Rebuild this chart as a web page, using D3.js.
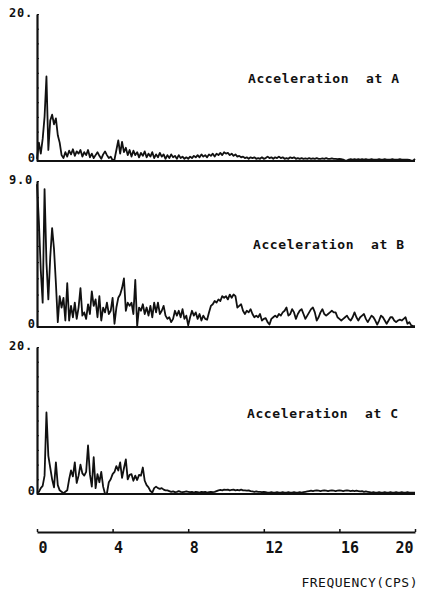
<!DOCTYPE html>
<html>
<head>
<meta charset="utf-8">
<script src="https://cdn.jsdelivr.net/npm/d3@7"></script>
<style>
    body { margin: 0; background: #fff; }
    text { font-family: "DejaVu Sans Mono", monospace; font-weight: bold; fill: #111; }
</style>
</head>
<body>
<svg id="chart" width="429" height="595"></svg>
<script>
// spectra sampled every 0.1 cps, 0 .. 20 cps
const freqStep = 0.1;

const accelA = [
    0.3, 2.5, 1.0, 3.0, 6.0, 11.5, 1.5, 5.5, 6.3, 5.0,
    5.8, 3.5, 2.5, 0.8, 0.4, 1.2, 0.6, 1.4, 0.9, 1.6,
    0.7, 1.3, 1.0, 1.5, 0.6, 1.2, 0.8, 1.5, 0.5, 1.0,
    0.4, 0.8, 1.2, 0.7, 0.3, 0.9, 1.3, 0.8, 0.4, 0.6,
    0.1, 0.2, 1.5, 2.8, 1.0, 2.6, 1.2, 1.8, 0.8, 1.5,
    0.6, 1.4, 0.8, 1.2, 0.5, 1.1, 0.7, 1.3, 0.5, 1.0,
    0.6, 1.2, 0.4, 0.9, 0.5, 1.1, 0.6, 0.9, 0.3, 0.8,
    0.4, 0.9, 0.5, 0.7, 0.3, 0.8, 0.4, 0.6, 0.3, 0.5,
    0.3, 0.6, 0.4, 0.7, 0.5, 0.8, 0.5, 0.9, 0.6, 0.8,
    0.5, 0.9, 0.7, 1.0, 0.6, 1.0, 0.8, 1.1, 0.8, 1.2,
    1.0, 1.1, 0.8, 1.0, 0.7, 0.9, 0.6, 0.7, 0.5, 0.6,
    0.4, 0.5, 0.3, 0.5, 0.4, 0.5, 0.3, 0.4, 0.3, 0.5,
    0.3, 0.4, 0.6, 0.4, 0.5, 0.3, 0.5, 0.4, 0.6, 0.4,
    0.5, 0.3, 0.4, 0.3, 0.5, 0.4, 0.5, 0.3, 0.4, 0.3,
    0.4, 0.3, 0.35, 0.3, 0.4, 0.3, 0.35, 0.3, 0.4, 0.3,
    0.3, 0.35, 0.3, 0.4, 0.3, 0.3, 0.35, 0.3, 0.3, 0.25,
    0.3, 0.25, 0.2, 0.05, 0.05, 0.2, 0.25, 0.2, 0.25, 0.2,
    0.25, 0.2, 0.25, 0.2, 0.25, 0.2, 0.2, 0.25, 0.2, 0.2,
    0.2, 0.25, 0.2, 0.2, 0.25, 0.2, 0.2, 0.2, 0.25, 0.2,
    0.2, 0.2, 0.25, 0.2, 0.2, 0.2, 0.2, 0.15, 0.05, 0.05,
    0.3
];

const accelB = [
    8.8, 6.5, 3.5, 1.5, 8.5, 4.0, 1.7, 4.3, 6.1, 4.8,
    2.7, 0.3, 1.9, 1.2, 1.8, 0.4, 2.7, 0.4, 1.3, 0.6,
    1.5, 0.5, 1.2, 2.4, 0.7, 0.9, 0.5, 1.4, 0.8, 2.2,
    1.3, 1.7, 0.6, 1.9, 0.4, 1.2, 0.9, 1.5, 0.8, 1.0,
    1.8, 0.2, 1.2, 1.8, 2.0, 2.4, 3.0, 1.0, 1.5, 1.3,
    1.5, 0.8, 2.9, 0.05, 1.2, 1.0, 1.4, 0.8, 1.2, 0.7,
    1.3, 0.6, 1.5, 0.9, 1.5, 0.8, 1.0, 1.3, 0.7, 0.5,
    0.6, 0.3, 0.5, 1.0, 0.7, 1.0, 0.6, 1.1, 0.5, 0.7,
    0.1, 0.6, 1.0, 0.7, 0.9, 0.5, 0.8, 0.4, 0.7, 0.5,
    0.45, 0.9, 1.3, 1.4, 1.6, 1.5, 1.7, 1.6, 1.9, 1.8,
    1.9, 1.7, 2.0, 1.8, 2.0, 1.9, 1.2, 1.3, 1.4, 1.0,
    0.8, 1.0, 0.9, 1.1, 0.8, 0.6, 0.7, 0.6, 0.8, 0.4,
    0.5, 0.55, 0.3, 0.15, 0.5, 0.6, 0.7, 0.6, 0.8, 0.7,
    0.9, 1.0, 1.2, 0.7, 0.8, 1.1, 0.9, 0.5, 0.8, 1.0,
    1.1, 0.8, 0.5, 0.7, 0.9, 1.1, 1.2, 0.9, 0.4, 0.6,
    0.9, 1.1, 0.8, 0.7, 0.8, 0.9, 1.0, 0.9, 0.9, 0.6,
    0.5, 0.4, 0.5, 0.6, 0.7, 0.5, 0.4, 0.6, 0.9, 0.6,
    0.4, 0.6, 0.7, 0.8, 0.5, 0.3, 0.5, 0.7, 0.6, 0.4,
    0.15, 0.4, 0.7, 0.6, 0.4, 0.2, 0.4, 0.6, 0.6, 0.4,
    0.3, 0.4, 0.45, 0.4, 0.5, 0.6, 0.2, 0.3, 0.1, 0.05,
    0.05
];

const accelC = [
    0.2, 0.3, 0.8, 1.1, 2.5, 11.1, 5.2, 3.6, 2.0, 0.9,
    4.3, 1.2, 0.5, 0.3, 0.1, 0.3, 0.5, 2.0, 3.2, 2.4,
    4.3, 1.5, 2.5, 4.0, 2.8, 2.5, 3.0, 6.6, 2.7, 1.0,
    5.0, 0.8, 2.7, 1.6, 3.0, 1.0, 0.0, 0.1, 1.6, 2.0,
    2.7, 3.0, 3.8, 3.2, 4.3, 2.2, 3.5, 4.7, 2.0, 2.6,
    2.7, 1.8, 2.5, 1.9, 2.6, 2.5, 3.6, 1.8, 1.2, 0.9,
    0.4, 0.2, 0.8, 1.0, 0.8, 0.7, 0.8, 0.6, 0.5, 0.5,
    0.4, 0.3, 0.35, 0.25, 0.3, 0.4, 0.3, 0.25, 0.3, 0.35,
    0.3, 0.25, 0.3, 0.2, 0.3, 0.25, 0.2, 0.3, 0.25, 0.3,
    0.2, 0.25, 0.3, 0.25, 0.3, 0.4, 0.5, 0.55, 0.5, 0.6,
    0.55, 0.6, 0.5, 0.55, 0.6, 0.5, 0.55, 0.5, 0.6, 0.5,
    0.5, 0.45, 0.5, 0.4, 0.35, 0.3, 0.35, 0.3, 0.3, 0.25,
    0.3, 0.25, 0.2, 0.2, 0.25, 0.2, 0.2, 0.25, 0.2, 0.2,
    0.25, 0.2, 0.2, 0.25, 0.2, 0.2, 0.25, 0.2, 0.2, 0.25,
    0.2, 0.25, 0.3, 0.35, 0.4, 0.45, 0.4, 0.45, 0.5, 0.45,
    0.4, 0.45, 0.5, 0.45, 0.4, 0.45, 0.5, 0.45, 0.4, 0.45,
    0.5, 0.45, 0.4, 0.45, 0.5, 0.45, 0.4, 0.45, 0.4, 0.45,
    0.4, 0.35, 0.4, 0.3, 0.35, 0.3, 0.25, 0.2, 0.25, 0.2,
    0.2, 0.25, 0.2, 0.2, 0.25, 0.2, 0.2, 0.25, 0.2, 0.2,
    0.25, 0.2, 0.2, 0.25, 0.2, 0.2, 0.25, 0.2, 0.2, 0.2,
    0.2
];

const panelTitles = ["Acceleration  at A", "Acceleration  at B", "Acceleration  at C"];
const panelMax = [20, 9, 20];
const panelMaxLabels = ["20.", "9.0", "20."];
const freqTicks = [0, 4, 8, 12, 16, 20];

// layout
const svg = d3.select("#chart");
const xLeft = 37, xRight = 415;
const panels = [
    { data: accelA, top: 14, base: 161, titleX: 248, titleY: 83 },
    { data: accelB, top: 181, base: 327, titleX: 253, titleY: 249 },
    { data: accelC, top: 347, base: 494, titleX: 247, titleY: 418 }
];
const freqAxisY = 532;

let xScale = d3.scaleLinear()
    .domain([0, 20])
    .range([xLeft, xRight]);

function draw_panel(p, i) {
    let yScale = d3.scaleLinear()
        .domain([0, panelMax[i]])
        .range([p.base, p.top]);

    let g = svg.append("g").classed("panel", true);

    // zero line
    g.append("line")
        .attr("x1", xScale(0)).attr("x2", xScale(20))
        .attr("y1", yScale(0)).attr("y2", yScale(0))
        .attr("stroke", "#111")
        .attr("stroke-width", 2);

    // y axis with little inward ticks
    let yAxis = d3.axisLeft(yScale)
        .ticks(10)
        .tickSize(-2)
        .tickSizeOuter(0)
        .tickFormat("");
    g.append("g")
        .attr("transform", `translate(${xLeft},0)`)
        .call(yAxis)
        .call(a => a.select(".domain").attr("stroke", "#111").attr("stroke-width", 2.2))
        .call(a => a.selectAll(".tick line").attr("stroke", "#111").attr("stroke-width", 1));

    let line = d3.line()
        .x((d, j) => xScale(j * freqStep))
        .y(d => yScale(d));

    g.append("path")
        .datum(p.data)
        .attr("d", line)
        .attr("fill", "none")
        .attr("stroke", "#111")
        .attr("stroke-width", 1.8)
        .attr("stroke-linejoin", "round");

    g.append("text")
        .attr("x", 33).attr("y", p.top + 3)
        .attr("text-anchor", "end")
        .attr("font-size", 12)
        .attr("letter-spacing", 0.8)
        .text(panelMaxLabels[i]);

    g.append("text")
        .attr("x", 35).attr("y", p.base + 1)
        .attr("text-anchor", "end")
        .attr("font-size", 12)
        .text("0");

    g.append("text")
        .attr("x", p.titleX).attr("y", p.titleY)
        .attr("font-size", 13)
        .attr("letter-spacing", 0.6)
        .attr("xml:space", "preserve")
        .style("white-space", "pre")
        .text(panelTitles[i]);
}

panels.forEach(draw_panel);

// shared frequency axis
let xAxis = d3.axisBottom(xScale)
    .tickValues(freqTicks)
    .tickSize(-3)
    .tickSizeOuter(0)
    .tickFormat(d => d);

let gx = svg.append("g")
    .attr("transform", `translate(0,${freqAxisY})`)
    .call(xAxis);

gx.select(".domain").attr("stroke", "#111").attr("stroke-width", 1.8);
gx.selectAll(".tick line").attr("stroke", "#111").attr("stroke-width", 1.5);
gx.selectAll(".tick text")
    .attr("fill", "#111")
    .attr("font-family", "DejaVu Sans Mono")
    .attr("font-weight", "bold")
    .attr("font-size", 15)
    .attr("y", 21)
    .attr("dy", 0)
    .attr("text-anchor", (d, i) => i === freqTicks.length - 1 ? "end" : "start")
    .attr("x", (d, i) => i === freqTicks.length - 1 ? -2 : 1);

svg.append("text")
    .attr("x", 418).attr("y", 587)
    .attr("text-anchor", "end")
    .attr("font-size", 13)
    .style("font-weight", "normal")
    .attr("letter-spacing", 0.5)
    .text("FREQUENCY(CPS)");
</script>
</body>
</html>
